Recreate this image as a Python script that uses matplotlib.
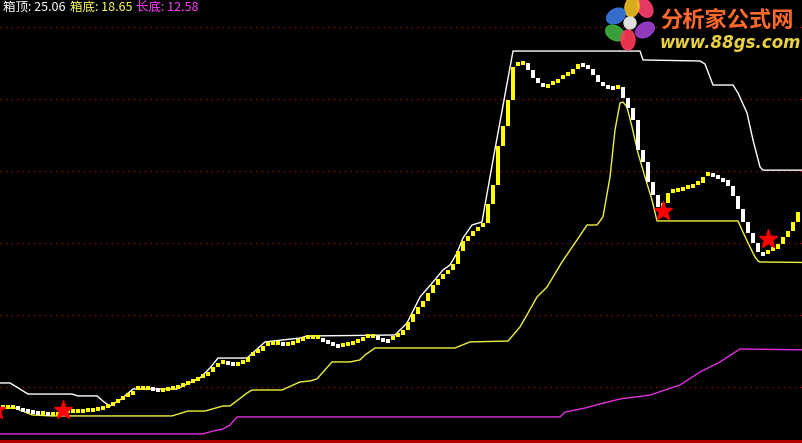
import matplotlib
matplotlib.use("Agg")
import matplotlib.pyplot as plt
from matplotlib.patches import Ellipse, Circle
import numpy as np

plt.rcParams['font.family'] = ['Noto Sans CJK SC', 'DejaVu Sans']

# 主线 (收盘平滑值), 每根K线一个值
harga = [
    8.61, 8.61, 8.61, 8.54, 8.40, 8.33, 8.26, 8.19, 8.19, 8.13,
    8.13, 8.13, 8.19, 8.33, 8.33, 8.33, 8.33, 8.40, 8.40, 8.47,
    8.54, 8.68, 8.82, 9.03, 9.24, 9.44, 9.72, 9.93, 9.93, 9.93,
    9.86, 9.79, 9.79, 9.86, 9.93, 10.00, 10.14, 10.28, 10.42, 10.56,
    10.76, 11.04, 11.39, 11.67, 11.74, 11.67, 11.60, 11.60, 11.74, 12.08,
    12.29, 12.50, 12.85, 12.99, 13.06, 13.06, 12.99, 12.99, 13.06, 13.19,
    13.33, 13.47, 13.47, 13.47, 13.26, 13.13, 12.99, 12.85, 12.92, 12.99,
    13.06, 13.19, 13.33, 13.54, 13.54, 13.40, 13.26, 13.19, 13.40, 13.61,
    13.96, 14.51, 15.07, 15.56, 15.97, 16.53, 17.08, 17.50, 17.85, 18.13,
    18.54, 19.44, 20.14, 20.49, 20.83, 21.11, 21.39, 22.71, 24.03, 26.74,
    28.13, 29.93, 32.22, 32.43, 32.50, 32.01, 31.46, 31.11, 30.83, 30.90,
    31.11, 31.39, 31.53, 31.74, 32.08, 32.43, 32.36, 32.08, 31.67, 31.18,
    30.90, 30.83, 30.76, 30.83, 30.07, 29.38, 28.54, 26.46, 25.63, 24.24,
    23.33, 22.50, 22.78, 23.47, 23.61, 23.68, 23.75, 23.89, 23.96, 24.17,
    24.58, 24.79, 24.72, 24.58, 24.38, 23.96, 23.26, 22.36, 21.46, 20.69,
    20.00, 19.38, 19.24, 19.38, 19.58, 19.93, 20.42, 20.83, 21.46, 22.15,
]

# 箱顶 (白线) 折点
top_x = [-0.6, 1.4, 5.0, 13.8, 15.0, 18.8, 20.2, 21.4, 23.4, 26.0, 34.8, 39.4,
         41.4, 43.0, 48.8, 52.4, 59.4, 60.8, 78.4, 80.8, 83.4, 86.0, 88.0, 89.4,
         90.8, 92.0, 93.8, 95.8, 98.0, 102.0, 127.4, 128.0, 139.4, 140.4, 142.0,
         146.0, 147.0, 148.8, 150.0, 151.4, 152.0, 159.8]
top_y = [10.28, 10.28, 9.51, 9.51, 9.38, 9.38, 8.96, 8.68, 9.10, 9.86, 9.86, 10.63,
         11.32, 12.01, 12.01, 13.13, 13.40, 13.54, 13.61, 14.44, 16.25, 17.29, 18.13, 18.47,
         19.31, 20.35, 21.25, 21.46, 25.76, 33.33, 33.33, 32.71, 32.64, 32.43, 30.97,
         30.97, 30.42, 29.03, 27.15, 25.28, 25.06, 25.06]

# 箱底 (黄细线) 折点
bot_x = [-0.6, 2.4, 5.8, 9.8, 33.8, 37.0, 40.4, 44.0, 45.4, 48.8, 49.8, 55.8,
         59.4, 61.4, 62.8, 65.8, 69.4, 71.4, 72.4, 74.4, 90.4, 93.4, 101.0, 103.4,
         105.0, 106.8, 108.8, 111.8, 114.8, 116.8, 118.8, 120.0, 121.4, 122.4, 123.4,
         124.0, 124.8, 125.8, 127.0, 128.4, 129.8, 130.8, 147.0, 147.8, 149.0, 150.4,
         151.0, 151.4, 159.8]
bot_y = [8.54, 8.54, 8.06, 7.99, 7.99, 8.33, 8.33, 8.68, 8.68, 9.58, 9.79, 9.79,
         10.35, 10.42, 10.56, 11.74, 11.74, 11.88, 12.22, 12.71, 12.71, 13.13, 13.19, 14.17,
         15.14, 16.25, 16.94, 18.68, 20.21, 21.25, 21.25, 21.81, 24.58, 27.85, 29.72,
         29.79, 29.44, 28.06, 26.25, 24.58, 22.99, 21.53, 21.53, 20.90, 20.00, 19.03,
         18.75, 18.68, 18.65]

# 长底 (紫线) 折点
long_x = [-0.6, 40.0, 42.0, 44.0, 45.4, 46.8, 111.4, 112.4, 116.4, 119.4, 123.4,
          129.4, 135.4, 139.4, 143.4, 147.4, 159.8]
long_y = [6.74, 6.74, 6.94, 7.08, 7.36, 7.92, 7.92, 8.26, 8.54, 8.82, 9.17,
          9.44, 10.14, 11.04, 11.74, 12.64, 12.58]

# 买点星号
star_x = [-1.4, 12, 132, 153]
star_y = [8.40, 8.40, 22.22, 20.28]

fig = plt.figure(figsize=(8.02, 4.43), dpi=100, facecolor='black')
ax = fig.add_axes([0, 0, 1, 1])
ax.set_facecolor('black')

# 网格虚线
for lvl in [10, 15, 20, 25, 30, 35]:
    ax.axhline(lvl, color='#8B1010', lw=1, ls=(0, (1, 3)), zorder=1)
ax.axhline(6.22, color='#C00000', lw=2, zorder=1)

# 主线柱子: 上涨黄色, 下跌白色
h = np.array(harga)
prev = np.concatenate([[h[0]], h[:-1]])
lo = np.minimum(prev, h)
hi = np.maximum(prev, h)
tinggi = hi - lo
kecil = tinggi < 0.27
lo = np.where(kecil, h - 0.135, lo)
tinggi = np.where(kecil, 0.27, tinggi)
warna = ['#FFFF00' if c >= p else '#FFFFFF' for c, p in zip(h, prev)]
xs = np.arange(len(h))
ax.bar(xs, tinggi, bottom=lo, width=0.75, color=warna, linewidth=0, zorder=4)

ax.plot(top_x, top_y, color='white', lw=1, zorder=3)
ax.plot(bot_x, bot_y, color='#F0F040', lw=1, zorder=3)
ax.plot(long_x, long_y, color='#E030E0', lw=1, zorder=3)
ax.plot(star_x, star_y, ls='none', marker='*', ms=14, color='#FF0000',
        markeredgecolor='#FF0000', zorder=5)

ax.set_xlim(-0.6, 159.8)
ax.set_ylim(6.11, 36.875)
ax.axis('off')

# 标题数值
ov = fig.add_axes([0, 0, 1, 1], facecolor='none')
ov.set_xlim(0, 802)
ov.set_ylim(443, 0)
ov.axis('off')
ov.text(3, 1, '箱顶: 25.06', color='white', fontsize=9, va='top', ha='left')
ov.text(70, 1, '箱底: 18.65', color='#FFFF60', fontsize=9, va='top', ha='left')
ov.text(136, 1, '长底: 12.58', color='#FF40FF', fontsize=9, va='top', ha='left')

# 水印 logo (花朵)
kelopak = [('#FF4070', 645, 8, 60), ('#F0C020', 632, 7, 100), ('#3A7AE0', 616, 16, 150),
           ('#40B040', 615, 33, 30), ('#FF3A5A', 628, 40, 90), ('#A040D0', 645, 30, 150)]
for c, px, py, ang in kelopak:
    ov.add_patch(Ellipse((px, py), 20, 14, angle=ang, color=c, alpha=0.9, zorder=6))
ov.add_patch(Circle((630, 23), 6, color='#E0E0E0', zorder=7))
ov.text(660, 20, '分析家公式网', color='#FF6A2A', fontsize=16, fontweight='bold',
        va='center', ha='left', zorder=7)
ov.text(660, 43, 'www.88gs.com', color='#E8D040', fontsize=12, fontweight='bold',
        style='italic', family='DejaVu Sans', va='center', ha='left', zorder=7)

fig.savefig('out.png', dpi=100, facecolor='black')
